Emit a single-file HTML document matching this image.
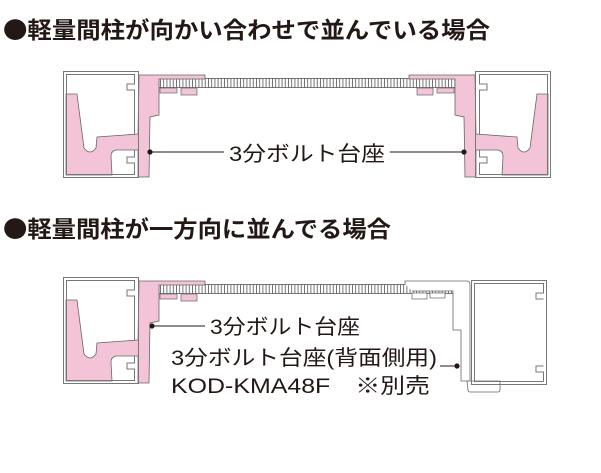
<!DOCTYPE html>
<html><head><meta charset="utf-8"><style>
html,body{margin:0;padding:0;background:#fff;}
svg text{font-family:"Liberation Sans","Noto Sans CJK JP",sans-serif;fill:#231815;}
svg text.t{font-family:"Noto Sans CJK JP",sans-serif;font-weight:bold;}
</style></head><body>
<svg width="601" height="468" viewBox="0 0 601 468" xmlns="http://www.w3.org/2000/svg">
<defs>
<pattern id="hat" x="0" y="0" width="3.2" height="10" patternUnits="userSpaceOnUse">
<rect width="3.2" height="10" fill="#fff"/><line x1="0.5" y1="0" x2="0.5" y2="10" stroke="#555" stroke-width="0.8"/>
</pattern>
<g id="stud">
<path d="M66,94 L77,94 L84,148 Q90,156 96,148 L97,137 L138,134 L139,75 L205,75 L205,79 L159,79 L159,115 L150,117 L149,177 L138,177 L138,150 L116,150 Q111,151 111,156 L112,175 L66,175 Z" fill="#f3c4d8" stroke="#666" stroke-width="0.8"/>
<rect x="63.5" y="71.5" width="75" height="106" fill="none" stroke="#777" stroke-width="1"/>
<path d="M66.5,174.5 V74.5 H134.5 V84 H127 V90 H134.5 V134 M134.5,150 V157 H127 V163 H134.5 V174.5 H66.5" fill="none" stroke="#777" stroke-width="1"/>
<rect x="160" y="88" width="17" height="5" fill="#f3c4d8" stroke="#666" stroke-width="0.7"/>
<rect x="181" y="88" width="16" height="7" fill="#f3c4d8" stroke="#666" stroke-width="0.7"/>
</g>
</defs>

<text class="t" x="3" y="38" font-size="23" textLength="487" lengthAdjust="spacingAndGlyphs">●軽量間柱が向かい合わせで並んでいる場合</text>
<text class="t" x="3" y="237" font-size="23" textLength="388" lengthAdjust="spacingAndGlyphs">●軽量間柱が一方向に並んでる場合</text>

<!-- Diagram 1 -->
<rect x="159" y="78.5" width="296" height="9" fill="url(#hat)" stroke="#555" stroke-width="0.8"/>
<use href="#stud"/>
<use href="#stud" transform="translate(614,0) scale(-1,1)"/>
<line x1="150" y1="152" x2="224" y2="152" stroke="#231815" stroke-width="1"/>
<line x1="390" y1="152" x2="464" y2="152" stroke="#231815" stroke-width="1"/>
<circle cx="150" cy="152" r="2.6" fill="#231815"/>
<circle cx="464" cy="152" r="2.6" fill="#231815"/>
<text x="229" y="161" font-size="21" textLength="156" lengthAdjust="spacingAndGlyphs">3分ボルト台座</text>

<!-- Diagram 2 -->
<rect x="159" y="284.5" width="296" height="9" fill="url(#hat)" stroke="#555" stroke-width="0.8"/>
<use href="#stud" transform="translate(0,206)"/>
<path d="M405,284 V281 H467 Q470,281 470,285 V381 H461 V330 H453 V291 H412" fill="#fff" stroke="#666" stroke-width="0.8"/>
<rect x="412" y="293" width="15" height="6" fill="#fff" stroke="#666" stroke-width="0.7"/>
<rect x="430" y="293" width="15" height="5" fill="#fff" stroke="#666" stroke-width="0.7"/>
<path d="M467,381 H500 V390 Q500,392 498,392 H470 Q468,392 468,390 Z" fill="#fff" stroke="#666" stroke-width="0.8"/>
<rect x="471.5" y="280.5" width="75" height="104" fill="none" stroke="#777" stroke-width="1"/>
<path d="M543.5,381.5 H474.5 V283.5 H543.5 V293 H536 V299 H543.5 M543.5,366 H536 V372 H543.5 V381.5" fill="none" stroke="#777" stroke-width="1"/>
<line x1="152" y1="326" x2="205" y2="326" stroke="#231815" stroke-width="1"/>
<circle cx="152" cy="326" r="2.6" fill="#231815"/>
<text x="210" y="334" font-size="21" textLength="150" lengthAdjust="spacingAndGlyphs">3分ボルト台座</text>
<line x1="440" y1="366" x2="457" y2="366" stroke="#231815" stroke-width="1"/>
<circle cx="457" cy="366" r="2.6" fill="#231815"/>
<text x="171" y="365" font-size="21" textLength="266" lengthAdjust="spacingAndGlyphs">3分ボルト台座(背面側用)</text>
<text x="171" y="393" font-size="21" textLength="259" lengthAdjust="spacingAndGlyphs">KOD-KMA48F　※別売</text>
</svg>
</body></html>
